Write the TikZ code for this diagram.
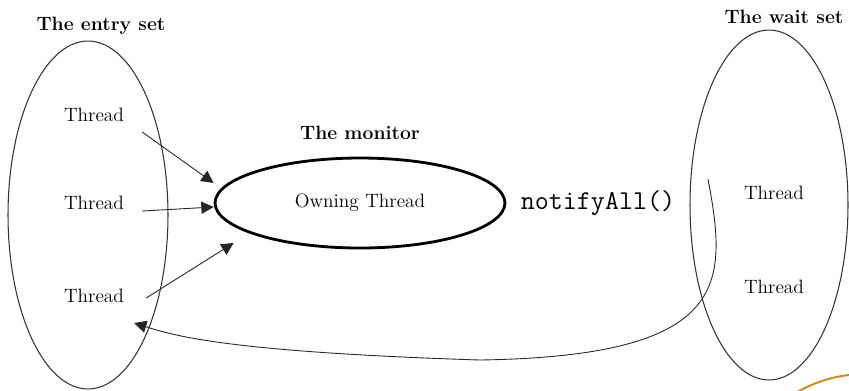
\documentclass[tikz,border=0pt]{standalone}
\usetikzlibrary{shapes.geometric, arrows.meta}
\definecolor{stampcol}{RGB}{204,140,30}
\begin{document}
\begin{tikzpicture}[x = 0.02cm, y = -0.02cm,
        thr/.style = {font = \fontsize{11}{13}\selectfont},
        ttl/.style = {font = \fontsize{11}{13}\selectfont\bfseries},
        setring/.style = {draw = black!80, ellipse, line width = 0.6pt, inner sep = 0pt},
        arr/.style = {-{Triangle[length = 7pt, width = 7pt]}, black!85, line width = 0.5pt}]
            \useasboundingbox (0,0) rectangle (849,390);
            \clip (0,0) rectangle (849,390);
            \node[setring, minimum width = 3.2cm, minimum height = 6.96cm] (entry) at (88,215) {};
            \node[setring, minimum width = 3.16cm, minimum height = 7cm] (wait) at (769,205) {};
            \node[draw, ellipse, line width = 1.6pt, minimum width = 5.8cm, minimum height = 1.8cm, inner sep = 0pt, font = \fontsize{11}{13}\selectfont] (mon) at (360,203) {Owning Thread};
            \node[ttl] (entrytitle) at (101,26) {The entry set};
            \node[ttl] (montitle) at (360,133) {The monitor};
            \node[ttl] (waittitle) at (784,17) {The wait set};
            \node[thr] (t1) at (94,115) {Thread};
            \node[thr] (t2) at (94,203) {Thread};
            \node[thr] (t3) at (94,296) {Thread};
            \node[thr] (w1) at (774,193) {Thread};
            \node[thr] (w2) at (774,287) {Thread};
            \node[font = \fontsize{15.5}{18}\selectfont\ttfamily] (notify) at (598,203) {notifyAll()};
            \draw[arr] ([shift = {(12,17)}]t1.east) -- ([shift = {(0,-20)}]mon.west);
            \draw[arr] ([shift = {(12,8)}]t2.east) -- ([shift = {(0,4)}]mon.west);
            \draw[arr] ([shift = {(16,2)}]t3.east) -- ([shift = {(20,40)}]mon.west);
            \coordinate (ret) at (708,179);
            \draw[arr] (ret) .. controls (728,285) and (730,356) .. (480,360)
                .. controls (230,352) and (175,336) .. ([shift = {(4,14)}]t3.south east);
            \draw[stampcol, line width = 1.1pt] (865,510) circle [radius = 136];
        \end{tikzpicture}
\end{document}
